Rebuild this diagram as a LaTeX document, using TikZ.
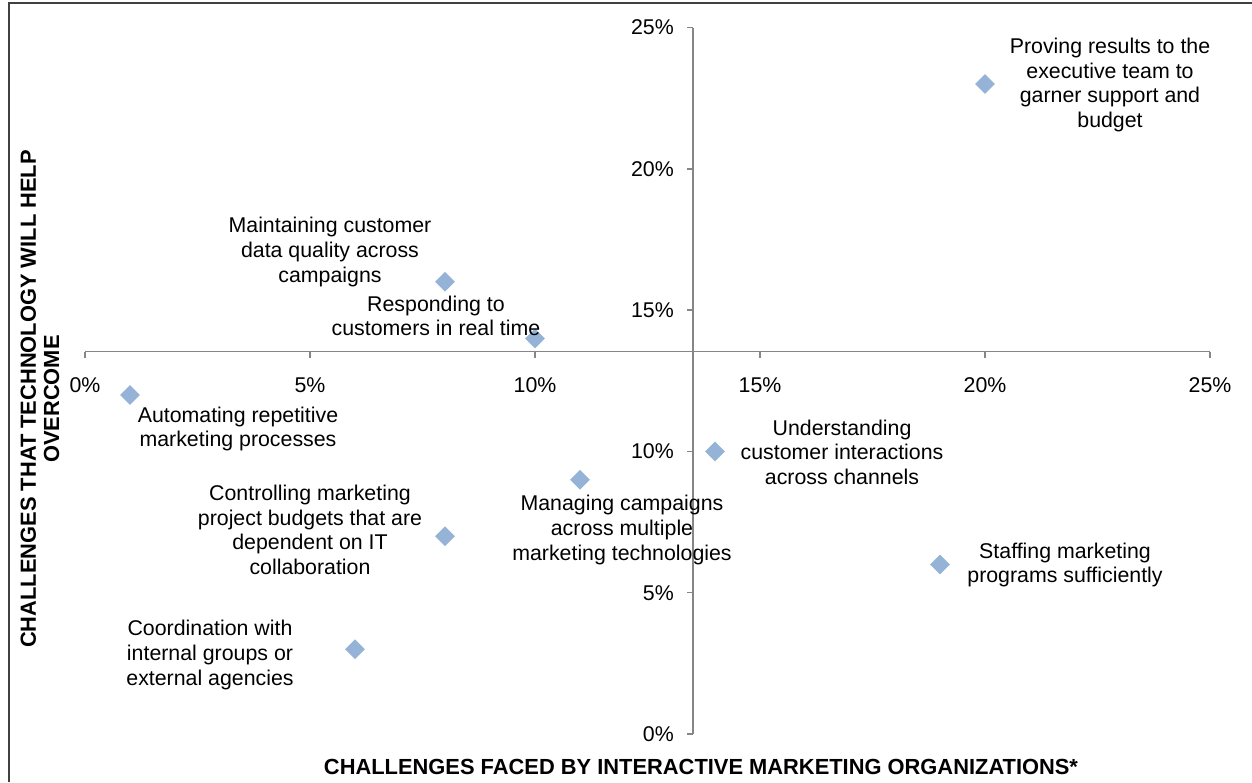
\documentclass[tikz,border=0pt]{standalone}
\usepackage{fontspec}
\setmainfont{Liberation Sans}
\usetikzlibrary{shapes.geometric}
\definecolor{axisgray}{HTML}{868686}
\definecolor{ptblue}{HTML}{95B3D7}
\definecolor{framegray}{HTML}{404040}
\begin{document}
\begin{tikzpicture}[x=0.75pt,y=-0.75pt,
  axisline/.style={draw=axisgray,line width=1.1pt},
  pt/.style={diamond,fill=ptblue,draw=none,inner sep=0pt,minimum width=15pt,minimum height=15pt},
  lbl/.style={align=center,inner sep=0pt,font=\fontsize{16}{18.4}\selectfont},
  ticklbl/.style={inner sep=0pt,font=\fontsize{16}{18.4}\selectfont},
  axtitle/.style={align=center,inner sep=0pt,font=\fontsize{16.4}{17.3}\selectfont\bfseries}]
\useasboundingbox (0,0) rectangle (1252,782);
\fill[white] (0,0) rectangle (1252,782);
% frame
\coordinate (fb) at (9,782);
\coordinate (ftl) at (9,3);
\coordinate (fr) at (1252,3);
\draw[framegray,line width=1.1pt] (fb) -- (ftl) -- (fr);
% axes
\coordinate (xa0) at (85,351.5);
\coordinate (xa1) at (1210,351.5);
\coordinate (ya0) at (693,734);
\coordinate (ya1) at (693,27.5);
\draw[axisline] (xa0) -- (xa1);
\draw[axisline] (ya0) -- (ya1);
% x ticks and labels
\foreach \i/\t in {0/0\%,1/5\%,2/10\%,3/15\%,4/20\%,5/25\%}{
  \coordinate (xt\i) at ({85+225*\i},351.5);
  \draw[axisline] (xt\i) -- ++(0,6);
  \node[ticklbl] (xl\i) at ({85+225*\i},385) {\t};
}
% y ticks and labels
\foreach \i/\t in {0/0\%,1/5\%,2/10\%,3/15\%,4/20\%,5/25\%}{
  \coordinate (yt\i) at (693,{734-141.3*\i});
  \draw[axisline] (yt\i) -- ++(-6,0);
  \node[ticklbl,anchor=east] (yl\i) at (674,{734-141.3*\i}) {\t};
}
% points
\node[pt] (p1) at (985,84) {};
\node[pt] (p2) at (445,281.8) {};
\node[pt] (p3) at (535,338.4) {};
\node[pt] (p4) at (130,394.9) {};
\node[pt] (p5) at (715,451.4) {};
\node[pt] (p6) at (580,479.7) {};
\node[pt] (p7) at (445,536.2) {};
\node[pt] (p8) at (940,564.4) {};
\node[pt] (p9) at (355,649.2) {};
% labels
\node[lbl] (l1) at (1110,85) {Proving results to the\\executive team to\\garner support and\\budget};
\node[lbl] (l2) at (330,252) {Maintaining customer\\data quality across\\campaigns};
\node[lbl] (l3) at (436,316) {Responding to\\customers in real time};
\node[lbl] (l4) at (238,429) {Automating repetitive\\marketing processes};
\node[lbl] (l5) at (842,452) {Understanding\\customer interactions\\across channels};
\node[lbl] (l6) at (622,530) {Managing campaigns\\across multiple\\marketing technologies};
\node[lbl] (l7) at (310,530) {Controlling marketing\\project budgets that are\\dependent on IT\\collaboration};
\node[lbl] (l8) at (1065,565) {Staffing marketing\\programs sufficiently};
\node[lbl] (l9) at (210,655) {Coordination with\\internal groups or\\external agencies};
% axis titles
\node[axtitle] (xt) at (701,767) {CHALLENGES FACED BY INTERACTIVE MARKETING ORGANIZATIONS*};
\node[axtitle,rotate=90] (yt) at (40,399) {CHALLENGES THAT TECHNOLOGY WILL HELP\\OVERCOME};
\end{tikzpicture}
\end{document}
